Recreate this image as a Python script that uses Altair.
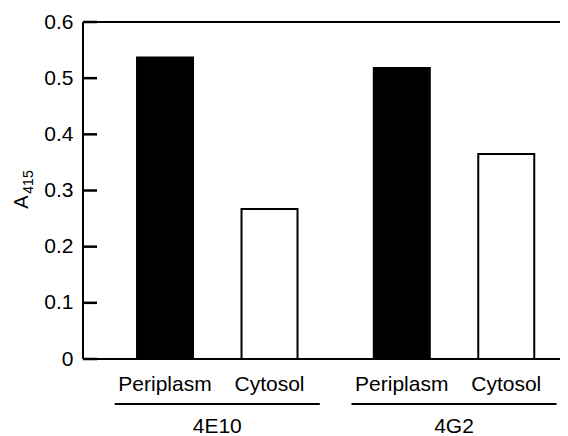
import altair as alt
import pandas as pd

groups = ["4E10", "4E10", "4G2", "4G2"]
fractions = ["Periplasm", "Cytosol", "Periplasm", "Cytosol"]
values = [0.537, 0.267, 0.518, 0.365]
group_names = ["4E10", "4G2"]
fraction_names = ["Periplasm", "Cytosol"]
y_ticks = [0, 0.1, 0.2, 0.3, 0.4, 0.5, 0.6]

df = pd.DataFrame({"group": groups, "fraction": fractions, "value": values})
gdf = pd.DataFrame({"group": group_names})
tdf = pd.DataFrame({"tick": y_ticks})

W, H = 477, 337
FONT = "Liberation Sans"

xscale = alt.Scale(domain=group_names, range=[15.9, 489.4], paddingInner=0, paddingOuter=0)
xoff_scale = alt.Scale(domain=fraction_names, paddingInner=0.464, paddingOuter=0.365)
yscale = alt.Scale(domain=[0, 0.6], nice=False, zero=True)

bars = alt.Chart(df).mark_bar(stroke="black", strokeWidth=2).encode(
    x=alt.X("group:N", scale=xscale, axis=None, sort=group_names),
    xOffset=alt.XOffset("fraction:N", scale=xoff_scale, sort=fraction_names),
    y=alt.Y("value:Q", scale=yscale,
            axis=alt.Axis(values=y_ticks, title=None, domain=False, grid=False,
                          ticks=False, tickSize=0,
                          labelPadding=10, labelFontSize=21, labelFont=FONT,
                          labelColor="black",
                          labelExpr="datum.value == 0 ? '0' : format(datum.value, '.1f')")),
    color=alt.Color("fraction:N", scale=alt.Scale(domain=fraction_names, range=["black", "white"]), legend=None),
)

ticks = alt.Chart(tdf).mark_rule(color="black", strokeWidth=2.5).encode(
    y=alt.Y("tick:Q", scale=yscale),
    x=alt.value(0),
    x2=alt.value(14),
)

cat_labels = alt.Chart(df).mark_text(fontSize=21, font=FONT, color="black", baseline="middle").encode(
    x=alt.X("group:N", scale=xscale, axis=None, sort=group_names),
    xOffset=alt.XOffset("fraction:N", scale=xoff_scale, sort=fraction_names),
    y=alt.value(363),
    text="fraction:N",
)

underline = alt.Chart(gdf).mark_bar(width={"band": 0.866}, color="black").encode(
    x=alt.X("group:N", scale=xscale, axis=None, sort=group_names),
    y=alt.value(381),
    y2=alt.value(383),
)

group_labels = alt.Chart(gdf).mark_text(fontSize=21, font=FONT, color="black", baseline="middle").encode(
    x=alt.X("group:N", scale=xscale, axis=None, sort=group_names),
    y=alt.value(405),
    text="group:N",
)

frame_src = pd.DataFrame({"k": [0]})
top_rule = alt.Chart(frame_src).mark_rule(color="black", strokeWidth=2).encode(
    x=alt.value(0), x2=alt.value(W), y=alt.value(0))
left_rule = alt.Chart(frame_src).mark_rule(color="black", strokeWidth=2).encode(
    x=alt.value(0), y=alt.value(0), y2=alt.value(H))
bottom_rule = alt.Chart(frame_src).mark_rule(color="black", strokeWidth=2).encode(
    x=alt.value(0), x2=alt.value(W), y=alt.value(H))

title_a = alt.Chart(frame_src).mark_text(fontSize=20, font=FONT, color="black", angle=270,
                                         baseline="middle", align="center").encode(
    x=alt.value(-61), y=alt.value(180), text=alt.value("A"))
title_sub = alt.Chart(frame_src).mark_text(fontSize=14, font=FONT, color="black", angle=270,
                                           baseline="middle", align="center").encode(
    x=alt.value(-54), y=alt.value(160), text=alt.value("415"))

chart = alt.layer(bars, ticks, cat_labels, underline, group_labels, top_rule, left_rule, bottom_rule,
                  title_a, title_sub).properties(
    width=W, height=H,
    autosize=alt.AutoSizeParams(type="none"),
    padding={"left": 75, "top": 14, "right": 0, "bottom": 77},
).configure_view(stroke=None).resolve_scale(x="shared")

chart.save("out.html", embed_options={"renderer": "svg", "actions": False})
